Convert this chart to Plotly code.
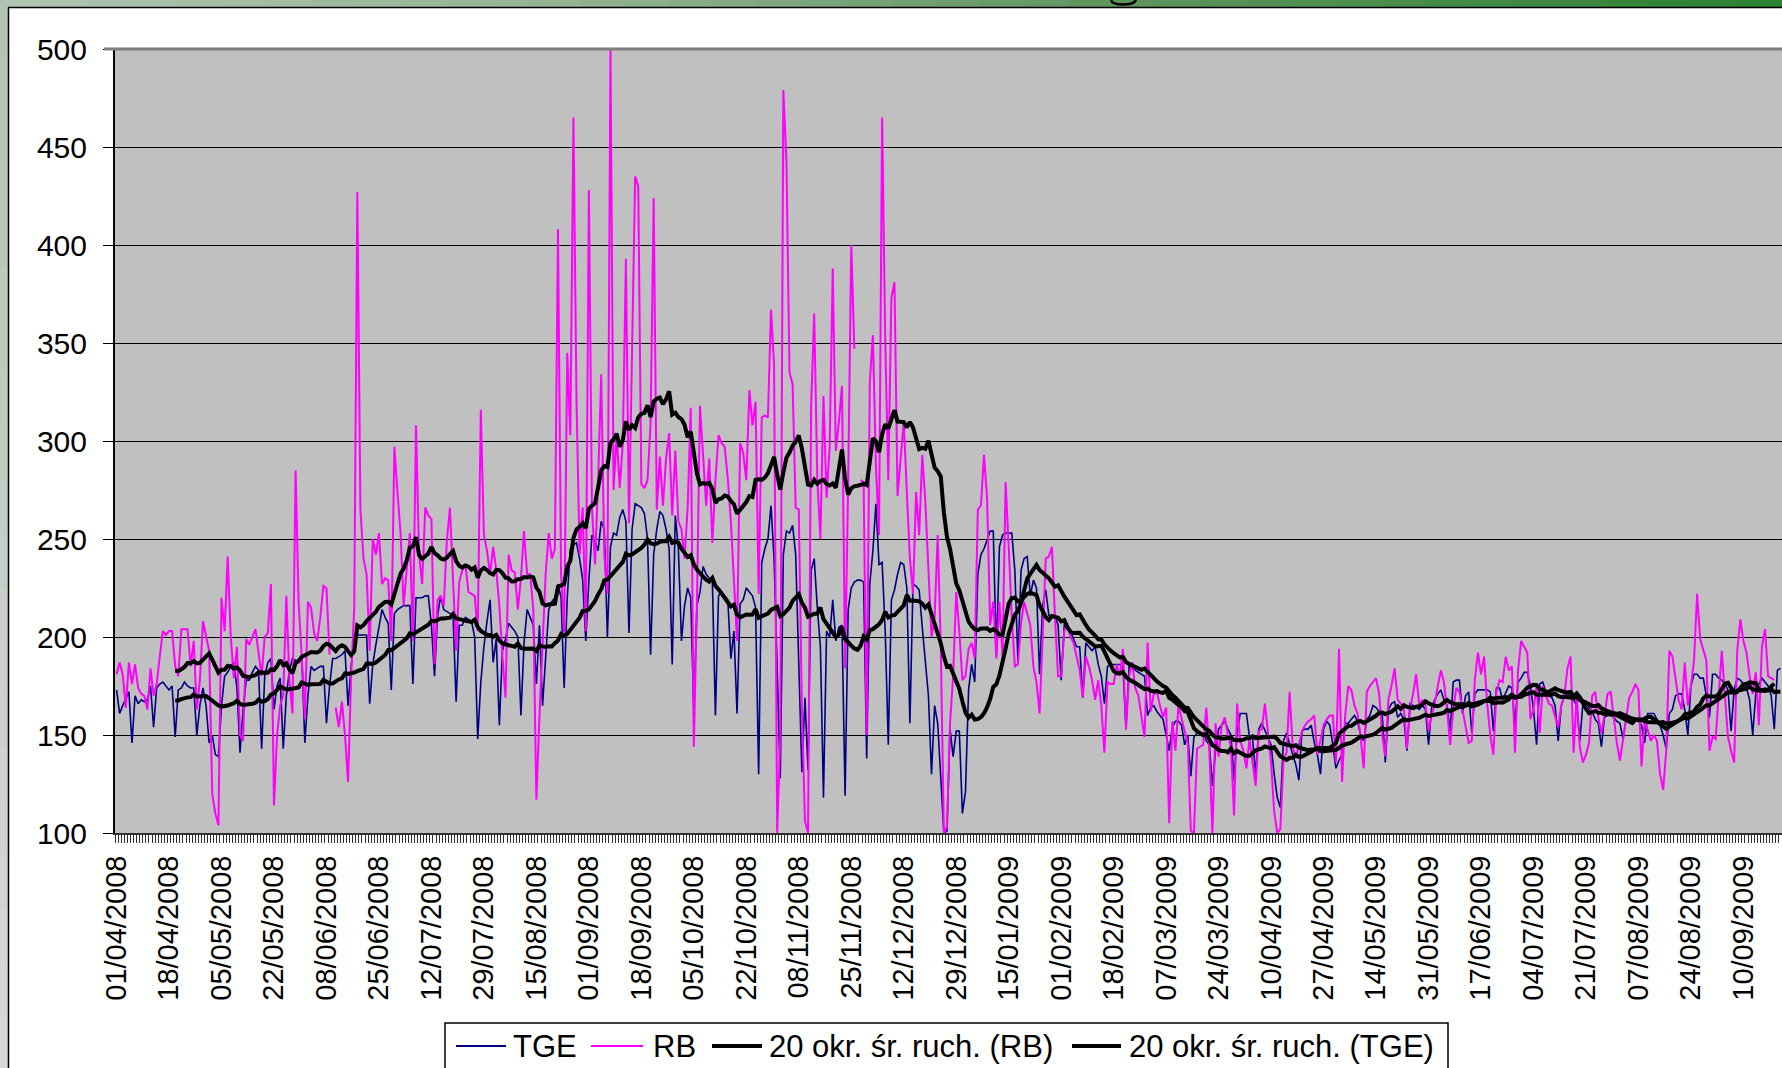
import pandas as pd
import plotly.graph_objects as go

START_DATE = "2008-04-01"

TICK_LABELS = ["01/04/2008", "18/04/2008", "05/05/2008", "22/05/2008", "08/06/2008",
               "25/06/2008", "12/07/2008", "29/07/2008", "15/08/2008", "01/09/2008",
               "18/09/2008", "05/10/2008", "22/10/2008", "08/11/2008", "25/11/2008",
               "12/12/2008", "29/12/2008", "15/01/2009", "01/02/2009", "18/02/2009",
               "07/03/2009", "24/03/2009", "10/04/2009", "27/04/2009", "14/05/2009",
               "31/05/2009", "17/06/2009", "04/07/2009", "21/07/2009", "07/08/2009",
               "24/08/2009", "10/09/2009"]

Y_TICKS = [100, 150, 200, 250, 300, 350, 400, 450, 500]

SERIES_NAMES = ["TGE", "RB", "20 okr. śr. ruch. (RB)", "20 okr. śr. ruch. (TGE)"]

# daily prices, index 0 = 01/04/2008 (10 values per row)
TGE = [
    173, 161, 165, 169, 172, 146, 170, 166, 168, 167,
    168, 175, 154, 174, 176, 177, 175, 173, 175, 149,
    173, 174, 177, 175, 174, 174, 150, 165, 174, 165,
    146, 150, 140, 139, 165, 180, 182, 185, 187, 174,
    141, 163, 178, 178, 182, 185, 183, 143, 180, 187,
    189, 163, 175, 179, 143, 170, 183, 189, 188, 187,
    191, 146, 170, 185, 183, 184, 185, 185, 156, 175,
    189, 189, 190, 191, 193, 165, 185, 201, 201, 201,
    201, 201, 166, 186, 196, 206, 214, 210, 207, 173,
    212, 214, 215, 216, 216, 216, 176, 220, 220, 220,
    221, 221, 206, 180, 211, 221, 214, 213, 212, 211,
    167, 206, 206, 210, 209, 208, 200, 148, 177, 195,
    208, 219, 187, 199, 155, 193, 199, 207, 205, 203,
    200, 160, 197, 214, 210, 206, 176, 206, 165, 190,
    214, 218, 220, 227, 220, 174, 220, 245, 247, 248,
    240, 229, 198, 229, 252, 249, 244, 259, 255, 200,
    246, 253, 252, 261, 265, 259, 202, 255, 268, 267,
    266, 263, 250, 191, 242, 255, 264, 262, 255, 245,
    186, 262, 245, 198, 216, 225, 220, 161, 216, 223,
    236, 232, 230, 229, 160, 221, 223, 221, 219, 189,
    203, 161, 217, 219, 225, 223, 221, 215, 130, 238,
    245, 250, 267, 240, 180, 128, 242, 254, 253, 257,
    242, 190, 131, 169, 132, 234, 240, 215, 195, 118,
    203, 200, 219, 198, 205, 206, 119, 214, 225, 228,
    229, 229, 228, 138, 227, 244, 268, 237, 238, 203,
    145, 219, 224, 232, 238, 237, 225, 156, 227, 226,
    224, 205, 187, 170, 130, 165, 156, 130, 100, 101,
    153, 139, 152, 152, 110, 121, 173, 186, 177, 232,
    242, 245, 249, 254, 254, 191, 246, 252, 253, 253,
    253, 234, 187, 234, 240, 241, 221, 229, 225, 181,
    216, 224, 211, 211, 211, 206, 178, 206, 205, 203,
    199, 195, 195, 169, 197, 195, 193, 195, 186, 180,
    166, 185, 186, 186, 186, 186, 185, 153, 185, 187,
    183, 182, 181, 180, 160, 164, 165, 162, 160, 158,
    150, 142, 154, 157, 157, 155, 145, 150, 129, 149,
    151, 151, 151, 147, 145, 124, 142, 153, 155, 157,
    153, 150, 127, 151, 161, 161, 161, 149, 148, 130,
    153, 156, 152, 149, 145, 130, 118, 113, 147, 151,
    145, 140, 135, 127, 152, 153, 153, 155, 146, 140,
    130, 153, 157, 155, 145, 133, 137, 140, 156, 156,
    158, 160, 157, 150, 147, 158, 160, 165, 164, 162,
    160, 136, 163, 166, 167, 159, 161, 158, 142, 166,
    165, 164, 163, 165, 163, 145, 164, 168, 171, 173,
    168, 165, 152, 177, 178, 178, 161, 170, 172, 151,
    171, 173, 173, 173, 173, 172, 152, 174, 174, 168,
    172, 175, 174, 155, 177, 179, 182, 182, 175, 163,
    145, 176, 177, 172, 170, 169, 165, 147, 165, 170,
    171, 170, 168, 165, 147, 166, 167, 164, 162, 158,
    156, 144, 159, 160, 160, 159, 157, 156, 148, 158,
    157, 157, 158, 157, 155, 146, 161, 161, 161, 158,
    155, 150, 143, 161, 163, 170, 171, 171, 163, 150,
    175, 181, 181, 179, 179, 170, 159, 181, 181, 179,
    178, 176, 173, 152, 173, 179, 178, 176, 174, 168,
    150, 171, 176, 179, 177, 175, 170, 153, 183, 184,
]

RB = [
    181, 187, 181, 164, 187, 176, 186, 174, 171, 170,
    163, 184, 170, 176, 190, 203, 201, 203, 203, 185,
    180, 204, 204, 204, 185, 198, 163, 178, 208, 200,
    193, 120, 110, 104, 220, 203, 241, 200, 179, 195,
    150, 147, 199, 196, 200, 204, 192, 180, 200, 202,
    227, 114, 150, 165, 170, 221, 178, 161, 285, 217,
    190, 158, 218, 215, 202, 198, 210, 226, 225, 191,
    None, 164, 154, 167, 150, 126, 180, 215, 427, 265,
    240, 232, 193, 250, 242, 253, 227, 230, 229, 198,
    297, 274, 253, 216, 235, 253, 198, 308, 242, 227,
    266, 262, 260, 186, 219, 221, 216, 249, 266, 230,
    193, 228, 234, 237, 223, 222, 221, 203, 316, 252,
    244, 232, 246, 234, 216, 190, 169, 242, 234, 233,
    214, 230, 254, 232, 232, 214, 117, 160, 198, 232,
    253, 240, 245, 408, 232, 202, 345, 303, 465, 321,
    242, 266, 203, 428, 266, 237, 280, 334, 242, 222,
    500, 275, 303, 276, 299, 393, 258, 352, 435, 430,
    278, 276, 280, 309, 424, 265, 292, 267, 291, 304,
    262, 295, 259, 255, 240, 266, 317, 144, 216, 318,
    291, 267, 291, 248, 280, 303, 299, 297, 281, 259,
    229, 198, 299, 294, 280, 326, 308, 320, 222, 312,
    313, 312, 367, 339, 100, 148, 479, 443, 335, 329,
    266, 265, 164, 106, 100, 318, 365, 281, 250, 323,
    271, 297, 388, 295, 310, 328, 184, 279, 400, 347,
    None, 280, 279, 150, 330, 354, 287, 252, 465, 352,
    280, 373, 381, 272, 290, 310, 274, 240, 222, 274,
    252, 293, 269, 232, 200, 210, 252, 195, 100, 103,
    156, 180, 223, 203, 178, 180, 194, 197, 189, 265,
    267, 293, 271, 206, 218, 189, 218, 190, 279, 246,
    210, 185, 186, 207, 218, 212, 206, 185, 177, 161,
    200, 240, 241, 246, 210, 180, 180, 203, 207, 200,
    197, 190, 183, 169, 190, 185, 178, 168, 178, 165,
    141, 177, 176, 176, 186, 180, 194, 153, 180, 187,
    174, 170, 160, 149, 197, 162, 171, 172, 165, 159,
    164, 105, 157, 142, 165, 158, 152, 146, 101, 100,
    143, 144, 145, 164, 142, 100, 156, 139, 155, 159,
    150, 144, 109, 166, 147, 142, 133, 148, 135, 124,
    152, 153, 166, 150, 136, 111, 100, 102, 137, 141,
    172, 144, 138, 145, 152, 155, 157, 158, 160, 140,
    148, 155, 158, 160, 160, 136, 194, 126, 160, 175,
    173, 165, 161, 149, 133, 172, 175, 177, 179, 171,
    150, 139, 168, 175, 184, 168, 166, 164, 143, 163,
    171, 181, 165, 168, 165, 152, 160, 166, 175, 183,
    177, 163, 145, 163, 174, 172, 163, 155, 146, 147,
    178, 192, 181, 190, 166, 150, 140, 172, 178, 177,
    190, 183, 185, 141, 183, 198, 195, 192, 158, 163,
    175, 151, 175, 170, 166, 165, 160, 154, 165, 170,
    184, 190, 141, 170, 144, 136, 140, 146, 170, 172,
    159, 151, 160, 171, 172, 160, 146, 137, 148, 158,
    169, 172, 176, 173, 134, 158, 152, 147, 150, 147,
    130, 122, 142, 193, 190, 180, 168, 163, 187, 165,
    175, 188, 222, 199, 194, 188, 142, 149, 148, 170,
    193, 170, 149, 142, 136, 193, 209, 198, 192, 180,
    171, 182, 155, 195, 204, 180, 179, 178, None, None,
]

MA_PERIOD = 20

dates = pd.date_range(START_DATE, periods=len(TGE), freq="D")
tge = pd.Series(TGE, index=dates, dtype="float")
rb = pd.Series(RB, index=dates, dtype="float")


def moving_average(s, n):
    v = s.dropna()
    return v.rolling(n).mean().reindex(s.index)


ma_rb = moving_average(rb, MA_PERIOD)
ma_tge = moving_average(tge, MA_PERIOD)

FONT = "Liberation Sans, Arial, sans-serif"
COLORS = ["#000080", "#FF00FF", "#000000", "#000000"]
WIDTHS = [1.6, 2, 4, 4]

fig = go.Figure()
for name, ys, col, w in zip(SERIES_NAMES, [tge, rb, ma_rb, ma_tge], COLORS, WIDTHS):
    fig.add_trace(go.Scatter(x=dates, y=ys, mode="lines", name=name,
                             connectgaps=(w > 3), line=dict(color=col, width=w)))

# geometry of the plot area in pixels
W, H = 1782, 1068
L, R, T, B = 115, 1782, 49, 833


def pxx(px):
    return (px - L) / (R - L)


def pxy(py):
    return (B - py) / (B - T)


half_day = pd.Timedelta(hours=12)
x_start = dates[0] - half_day
x_end = dates[0] + pd.Timedelta(days=539.5)
tickvals = [pd.to_datetime(t, format="%d/%m/%Y") for t in TICK_LABELS]

shapes = []
annotations = []
# gradient strip at the top of the slide
stops = [(0, (178, 196, 178)), (600, (145, 178, 145)), (1100, (95, 150, 95)), (1782, (45, 130, 50))]
nseg = 40
for i in range(nseg):
    x0 = W * i / nseg
    x1 = W * (i + 1) / nseg
    xm = (x0 + x1) / 2
    for j in range(len(stops) - 1):
        if stops[j][0] <= xm <= stops[j + 1][0]:
            a, ca = stops[j]
            b, cb = stops[j + 1]
            f = (xm - a) / (b - a)
            c = tuple(int(ca[k] + (cb[k] - ca[k]) * f) for k in range(3))
            break
    shapes.append(dict(type="rect", xref="paper", yref="paper",
                       x0=pxx(x0), x1=pxx(x1 + 1), y0=pxy(7), y1=pxy(0),
                       fillcolor="rgb(%d,%d,%d)" % c, line=dict(width=0), layer="above"))
# left strip
nseg_v = 20
for i in range(nseg_v):
    y0 = H * i / nseg_v
    y1 = H * (i + 1) / nseg_v
    f = (y0 + y1) / 2 / H
    c = tuple(int(a + (b - a) * f) for a, b in zip((178, 196, 178), (215, 216, 215)))
    shapes.append(dict(type="rect", xref="paper", yref="paper",
                       x0=pxx(0), x1=pxx(8), y0=pxy(y1 + 1), y1=pxy(max(y0, 7)),
                       fillcolor="rgb(%d,%d,%d)" % c, line=dict(width=0), layer="above"))
shapes.append(dict(type="line", xref="paper", yref="paper", x0=pxx(8), x1=pxx(W),
                   y0=pxy(7.5), y1=pxy(7.5), line=dict(color="black", width=1.5)))
shapes.append(dict(type="line", xref="paper", yref="paper", x0=pxx(8.5), x1=pxx(8.5),
                   y0=pxy(7.5), y1=pxy(H), line=dict(color="black", width=1.5)))
# top border of the plot area
shapes.append(dict(type="line", xref="paper", yref="paper", x0=pxx(104), x1=1,
                   y0=1, y1=1, line=dict(color="#808080", width=3), layer="above"))

# small curved remnant of the cut-off slide title (drawn as a path)
arc = "M %f,%f Q %f,%f %f,%f Q %f,%f %f,%f" % (
    pxx(1111), pxy(0), pxx(1112), pxy(4.5), pxx(1123), pxy(4.5),
    pxx(1134), pxy(4.5), pxx(1136), pxy(0))
shapes.append(dict(type="path", xref="paper", yref="paper", path=arc,
                   line=dict(color="black", width=2.5), layer="above"))

# legend box (drawn by hand so symbol lengths match)
LEG_Y = 1046
shapes.append(dict(type="rect", xref="paper", yref="paper",
                   x0=pxx(445), x1=pxx(1448), y0=pxy(1080), y1=pxy(1023),
                   fillcolor="white", line=dict(color="black", width=1.5)))
legend_items = [(456, 506, 511), (591, 643, 651), (712, 762, 767), (1072, 1121, 1127)]
for (lx0, lx1, tx), name, col, w in zip(legend_items, SERIES_NAMES, COLORS, WIDTHS):
    shapes.append(dict(type="line", xref="paper", yref="paper",
                       x0=pxx(lx0), x1=pxx(lx1), y0=pxy(LEG_Y), y1=pxy(LEG_Y),
                       line=dict(color=col, width=max(w, 2.2))))
    annotations.append(dict(xref="paper", yref="paper", x=pxx(tx), y=pxy(LEG_Y),
                            xanchor="left", yanchor="middle", text=name, showarrow=False,
                            font=dict(size=31, family=FONT, color="black")))

fig.update_layout(
    width=W, height=H,
    margin=dict(l=L, r=W - R, t=T, b=H - B, pad=0, autoexpand=False),
    paper_bgcolor="white",
    plot_bgcolor="#C0C0C0",
    font=dict(family=FONT, color="black"),
    showlegend=False,
    shapes=shapes,
    annotations=annotations,
    xaxis=dict(
        type="date", range=[x_start, x_end],
        tickmode="array", tickvals=tickvals, ticktext=TICK_LABELS,
        tickangle=-90, tickfont=dict(size=29, family=FONT),
        ticks="outside", ticklen=8, tickcolor="rgba(0,0,0,0)",
        ticklabelstandoff=1,
        showgrid=False, zeroline=False,
        showline=True, linecolor="#303030", linewidth=2,
        minor=dict(tickmode="linear", tick0=x_start, dtick=86400000,
                   ticks="outside", ticklen=8, tickcolor="#303030", tickwidth=1,
                   showgrid=False),
    ),
    yaxis=dict(
        range=[100, 500], tickmode="array", tickvals=Y_TICKS,
        tickfont=dict(size=30, family=FONT),
        ticks="outside", ticklen=10, tickcolor="black", tickwidth=1,
        ticklabelstandoff=10,
        showgrid=True, gridcolor="black", gridwidth=1,
        zeroline=False, showline=True, linecolor="black", linewidth=2,
    ),
)

fig.write_html(
    "out.html",
    config={"displayModeBar": False},
    post_script="document.body.style.margin='0';document.body.style.overflow='hidden';",
)
